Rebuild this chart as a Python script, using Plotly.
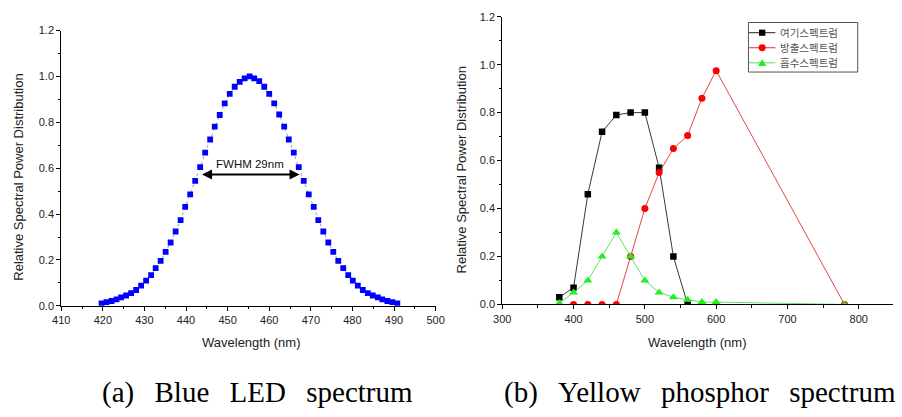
import plotly.graph_objects as go

# ---- (a) Blue LED spectrum ----
blue_wl = [419.7, 420.9, 422.1, 423.3, 424.4, 425.6, 426.8, 428.0, 429.2, 430.4,
           431.6, 432.7, 433.9, 435.1, 436.3, 437.5, 438.7, 439.8, 441.0, 442.2,
           443.4, 444.6, 445.8, 446.9, 448.1, 449.3, 450.5, 451.7, 452.9, 454.1,
           455.3, 456.4, 457.6, 458.8, 460.0, 461.2, 462.4, 463.6, 464.7, 465.9,
           467.1, 468.3, 469.5, 470.7, 471.8, 473.0, 474.2, 475.4, 476.6, 477.8,
           479.0, 480.1, 481.3, 482.5, 483.7, 484.9, 486.1, 487.2, 488.4, 489.6,
           490.8]
blue_val = [0.011, 0.016, 0.021, 0.028, 0.037, 0.045, 0.055, 0.069, 0.088, 0.110,
            0.134, 0.164, 0.196, 0.235, 0.276, 0.324, 0.374, 0.431, 0.486, 0.545,
            0.605, 0.668, 0.725, 0.781, 0.832, 0.883, 0.924, 0.955, 0.976, 0.992,
            1.000, 0.992, 0.980, 0.955, 0.924, 0.883, 0.834, 0.781, 0.725, 0.668,
            0.605, 0.545, 0.486, 0.431, 0.374, 0.324, 0.276, 0.235, 0.196, 0.164,
            0.134, 0.110, 0.088, 0.069, 0.055, 0.045, 0.037, 0.028, 0.021, 0.016,
            0.011]

# ---- (b) Yellow phosphor spectrum ----
exc_wl = [380, 400, 420, 440, 460, 480, 500, 520, 540, 560]
exc_val = [0.03, 0.07, 0.46, 0.72, 0.79, 0.80, 0.80, 0.57, 0.20, 0.0]

emi_wl = [400, 420, 440, 460, 480, 500, 520, 540, 560, 580, 600, 780]
emi_val = [0.0, 0.0, 0.0, 0.0, 0.20, 0.40, 0.55, 0.65, 0.705, 0.86, 0.975, 0.0]

abs_wl = [380, 400, 420, 440, 460, 480, 500, 520, 540, 560, 580, 600, 780]
abs_val = [0.005, 0.05, 0.10, 0.20, 0.30, 0.20, 0.10, 0.05, 0.03, 0.02, 0.01, 0.01, 0.0]

series_names = ["여기스펙트럼", "방출스펙트럼", "흡수스펙트럼"]
series_line_colors = ["#222222", "#e03030", "#55dd55"]
series_marker_colors = ["#000000", "#ff0000", "#22ee22"]

fwhm_left, fwhm_right, fwhm_level = 443.5, 467.3, 0.572
fwhm_text = "FWHM 29nm"

W, H = 902, 417


def px(x):
    return x / W


def py(y):
    return 1 - y / H


fig = go.Figure()

fig.add_trace(go.Scatter(
    x=blue_wl, y=blue_val, mode="lines+markers", xaxis="x", yaxis="y",
    line=dict(color="#888888", width=0.8, dash="dot"),
    marker=dict(symbol="square", size=5.8, color="#0000ff"),
    showlegend=False))

fig.add_trace(go.Scatter(
    x=exc_wl, y=exc_val, mode="lines+markers", xaxis="x2", yaxis="y2",
    name=series_names[0], showlegend=False,
    line=dict(color=series_line_colors[0], width=0.9),
    marker=dict(symbol="square", size=6.5, color=series_marker_colors[0])))
fig.add_trace(go.Scatter(
    x=emi_wl, y=emi_val, mode="lines+markers", xaxis="x2", yaxis="y2",
    name=series_names[1], showlegend=False,
    line=dict(color=series_line_colors[1], width=0.9),
    marker=dict(symbol="circle", size=7, color=series_marker_colors[1])))
fig.add_trace(go.Scatter(
    x=abs_wl, y=abs_val, mode="lines+markers", xaxis="x2", yaxis="y2",
    name=series_names[2], showlegend=False,
    line=dict(color=series_line_colors[2], width=0.9),
    marker=dict(symbol="triangle-up", size=8, color=series_marker_colors[2])))

tickfont = dict(family="Liberation Sans, Arial, sans-serif", size=11, color="#222222")
axis_common = dict(showline=True, linecolor="#000000", linewidth=1,
                   ticks="outside", ticklen=4, tickcolor="#000000",
                   showgrid=False, zeroline=False, tickfont=tickfont)

fig.update_layout(
    width=W, height=H,
    margin=dict(l=0, r=0, t=0, b=0),
    paper_bgcolor="white", plot_bgcolor="white",
    showlegend=False,
    xaxis=dict(domain=[px(53.3), px(435.3)], range=[410, 500], dtick=10,
               minor=dict(dtick=5, ticks="outside", ticklen=2.5, tickcolor="#000"),
               anchor="y", **axis_common),
    yaxis=dict(domain=[py(308.7), py(25.3)], range=[0, 1.2], dtick=0.2,
               tickformat=".1f",
               minor=dict(dtick=0.1, ticks="outside", ticklen=2.5, tickcolor="#000"),
               anchor="x", **axis_common),
    xaxis2=dict(domain=[px(503.3), 1.0], range=[300, 848], dtick=100,
                minor=dict(dtick=50, ticks="outside", ticklen=2.5, tickcolor="#000"),
                anchor="y2", **axis_common),
    yaxis2=dict(domain=[py(307.3), py(11)], range=[0, 1.2], dtick=0.2,
                tickformat=".1f",
                minor=dict(dtick=0.1, ticks="outside", ticklen=2.5, tickcolor="#000"),
                anchor="x2", **axis_common),
)

# ---- hand-drawn legend (compact, like the original) ----
shapes = [dict(type="rect", xref="paper", yref="paper",
               x0=px(754.5), x1=px(866), y0=py(68), y1=py(17),
               line=dict(color="#555555", width=1), fillcolor="white", layer="above")]
legend_font = dict(family="Noto Sans CJK KR", size=10.5, color="#555555")
ann = []
rows_y = [27.5, 43, 58.5]
for i, (name, lc, mc) in enumerate(zip(series_names, series_line_colors, series_marker_colors)):
    yy = rows_y[i]
    shapes.append(dict(type="line", xref="paper", yref="paper",
                       x0=px(755), x1=px(782), y0=py(yy), y1=py(yy),
                       line=dict(color=lc, width=1), layer="above"))
    cx = 768.5
    if i == 0:
        shapes.append(dict(type="rect", xref="paper", yref="paper",
                           x0=px(cx - 3.2), x1=px(cx + 3.2), y0=py(yy + 3.2), y1=py(yy - 3.2),
                           line=dict(width=0), fillcolor=mc, layer="above"))
    elif i == 1:
        shapes.append(dict(type="circle", xref="paper", yref="paper",
                           x0=px(cx - 3.6), x1=px(cx + 3.6), y0=py(yy + 3.6), y1=py(yy - 3.6),
                           line=dict(width=0), fillcolor=mc, layer="above"))
    else:
        path = "M {:.5f},{:.5f} L {:.5f},{:.5f} L {:.5f},{:.5f} Z".format(
            px(cx - 4.2), py(yy + 3.2), px(cx + 4.2), py(yy + 3.2), px(cx), py(yy - 4))
        shapes.append(dict(type="path", xref="paper", yref="paper", path=path,
                           line=dict(width=0), fillcolor=mc, layer="above"))
    ann.append(dict(text=name, x=px(785), y=py(yy), xref="paper", yref="paper",
                    xanchor="left", yanchor="middle", showarrow=False, font=legend_font))

title_font = dict(family="Liberation Sans, Arial, sans-serif", size=13, color="#222222")
cap_font = dict(family="Liberation Serif, serif", size=29, color="#000000")
sp = "&#160;&#160;&#8201;"

ann += [
    dict(text="Relative Spectral Power Distribution", x=px(10), y=py(176),
         xref="paper", yref="paper", textangle=-90, showarrow=False, font=title_font,
         xanchor="center", yanchor="middle"),
    dict(text="Relative Spectral Power Distribution", x=px(461.5), y=py(169),
         xref="paper", yref="paper", textangle=-90, showarrow=False, font=title_font,
         xanchor="center", yanchor="middle"),
    dict(text="Wavelength (nm)", x=px(247), y=py(346), xref="paper", yref="paper",
         showarrow=False, font=title_font, xanchor="center", yanchor="middle"),
    dict(text="Wavelength (nm)", x=px(703), y=py(346), xref="paper", yref="paper",
         showarrow=False, font=title_font, xanchor="center", yanchor="middle"),
    dict(text="(a)" + sp + "Blue" + sp + "LED" + sp + "spectrum", x=px(254), y=py(398),
         xref="paper", yref="paper", showarrow=False, font=cap_font,
         xanchor="center", yanchor="middle"),
    dict(text="(b)" + sp + "Yellow" + sp + "phosphor" + sp + "spectrum", x=px(705), y=py(398),
         xref="paper", yref="paper", showarrow=False, font=cap_font,
         xanchor="center", yanchor="middle"),
    dict(text="", x=fwhm_right, y=fwhm_level, ax=fwhm_left, ay=fwhm_level,
         xref="x", yref="y", axref="x", ayref="y", showarrow=True,
         arrowhead=2, startarrowhead=2, arrowside="end+start", arrowsize=1,
         arrowwidth=2, arrowcolor="#000000"),
    dict(text=fwhm_text, x=(fwhm_left + fwhm_right) / 2, y=0.617, xref="x", yref="y",
         showarrow=False, font=dict(family="Liberation Sans, Arial, sans-serif", size=11.5,
                                    color="#111111")),
]
fig.update_layout(annotations=ann, shapes=shapes)

fig.write_html("out.html")
